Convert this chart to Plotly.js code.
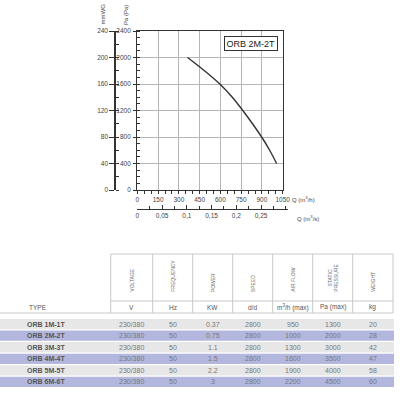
<!DOCTYPE html>
<html><head><meta charset="utf-8">
<script src="https://cdn.plot.ly/plotly-3.0.1.min.js"></script>
<style>html,body{margin:0;padding:0;background:#fff}</style>
</head><body><div id="chart" style="width:400px;height:400px"></div>
<script>
// ---- chart data ----
const curveQ = [363, 485, 596, 686, 762, 832, 898, 956, 1006];   // m3/h
const curveP = [2000, 1800, 1600, 1400, 1200, 1000, 800, 600, 400]; // Pa
const modelLabel = "ORB 2M-2T";
const qsTickVals = [0, 0.05, 0.1, 0.15, 0.2, 0.25];
const qsTickText = ["0", "0,05", "0,1", "0,15", "0,2", "0,25"];

// ---- table data ----
const types = ["ORB 1M-1T", "ORB 2M-2T", "ORB 3M-3T", "ORB 4M-4T", "ORB 5M-5T", "ORB 6M-6T"];
const voltage = ["230/380", "230/380", "230/380", "230/380", "230/380", "230/380"];
const frequency = [50, 50, 50, 50, 50, 50];
const power = ["0.37", "0.75", "1.1", "1.5", "2.2", "3"];
const speed = [2800, 2800, 2800, 2800, 2800, 2800];
const airflow = [950, 1000, 1300, 1600, 1900, 2200];
const pressure = [1300, 2000, 3000, 3500, 4000, 4500];
const weight = [20, 28, 42, 47, 58, 60];
const headers = ["VOLTAGE", "FREQUENCY", "POWER", "SPEED", "AIR FLOW", "STATIC<br>PRESSURE", "WEIGHT"];
const units = ["V", "Hz", "KW", "d/d", "m<sup>3</sup>/h (max)", "Pa (max)", "kg"];

const W = 400, H = 400;
const px = x => x / W;
const py = y => 1 - y / H;
const FONT = "Liberation Sans, Arial, sans-serif";
const tickFont = {family: FONT, size: 6.5, color: "#444"};

const traces = [
  {x: curveQ, y: curveP, xaxis: "x", yaxis: "y", mode: "lines",
   line: {color: "#333", width: 1.4, shape: "spline", smoothing: 1}, hoverinfo: "skip", showlegend: false},
  {x: [0], y: [0], xaxis: "x", yaxis: "y2", mode: "markers", marker: {opacity: 0}, hoverinfo: "skip", showlegend: false},
  {x: [0], y: [0], xaxis: "x2", yaxis: "y4", mode: "markers", marker: {opacity: 0}, hoverinfo: "skip", showlegend: false}
];

const layout = {
  width: W, height: H, autosize: false,
  margin: {l: 0, r: 0, t: 0, b: 0},
  paper_bgcolor: "#fff", plot_bgcolor: "rgba(0,0,0,0)",
  showlegend: false,
  xaxis: {
    domain: [px(137.3), px(282.7)], range: [0, 1050], anchor: "y",
    tickvals: [0, 150, 300, 450, 600, 750, 900, 1050],
    showgrid: true, gridcolor: "#b5b5b5", gridwidth: 1,
    showline: true, linecolor: "#333", linewidth: 1.2, mirror: true,
    ticks: "outside", ticklen: 3, tickcolor: "#333",
    minor: {dtick: 50, ticks: "outside", ticklen: 3, tickcolor: "#333", showgrid: false},
    zeroline: false, tickfont: tickFont, fixedrange: true
  },
  yaxis: {
    domain: [py(190), py(31)], range: [0, 2400], anchor: "x",
    dtick: 400, tick0: 0,
    showgrid: true, gridcolor: "#b5b5b5", gridwidth: 1,
    showline: true, linecolor: "#333", linewidth: 1.2, mirror: true,
    ticks: "outside", ticklen: 3, tickcolor: "#333", ticklabelstandoff: 1,
    minor: {dtick: 100, ticks: "inside", ticklen: 3, tickcolor: "#333", showgrid: false},
    zeroline: false, tickfont: tickFont, fixedrange: true
  },
  yaxis2: {
    overlaying: "y", anchor: "free", position: px(114.3), side: "left",
    range: [0, 240], dtick: 40, tick0: 0,
    showgrid: false, showline: true, linecolor: "#333", linewidth: 1.2,
    ticks: "outside", ticklen: 5, tickcolor: "#333",
    minor: {dtick: 20, ticks: "inside", ticklen: 3, tickcolor: "#333", showgrid: false},
    zeroline: false, tickfont: tickFont, fixedrange: true
  },
  xaxis2: {
    domain: [px(137.3), px(288)], range: [0, 0.3044], anchor: "y4",
    tickvals: qsTickVals, ticktext: qsTickText,
    showgrid: false, showline: true, linecolor: "#333", linewidth: 1.2,
    ticks: "inside", ticklen: 4, tickcolor: "#333",
    minor: {dtick: 0.025, ticks: "inside", ticklen: 3, tickcolor: "#333", showgrid: false},
    zeroline: false, tickfont: tickFont, fixedrange: true
  },
  yaxis4: {domain: [py(209), py(200)], anchor: "x2", visible: false, range: [0, 1], fixedrange: true},
  shapes: [],
  annotations: []
};

const ann = layout.annotations, shp = layout.shapes;

// chart labels
ann.push({xref: "paper", yref: "paper", x: px(102), y: py(27), text: "mmWG", textangle: -90,
  showarrow: false, xanchor: "center", yanchor: "bottom", font: {family: FONT, size: 6, color: "#444"}});
ann.push({xref: "paper", yref: "paper", x: px(126), y: py(27), text: "Pa (Pa)", textangle: -90,
  showarrow: false, xanchor: "center", yanchor: "bottom", font: {family: FONT, size: 6, color: "#444"}});
ann.push({xref: "paper", yref: "paper", x: px(290), y: py(199), text: "Q (m<sup>3</sup>/h)",
  showarrow: false, xanchor: "left", yanchor: "middle", font: {family: FONT, size: 6, color: "#444"}});
ann.push({xref: "paper", yref: "paper", x: px(295), y: py(218), text: "Q (m<sup>3</sup>/s)",
  showarrow: false, xanchor: "left", yanchor: "middle", font: {family: FONT, size: 6, color: "#444"}});
ann.push({xref: "paper", yref: "paper", x: px(251), y: py(44), text: modelLabel,
  showarrow: false, xanchor: "center", yanchor: "middle", bgcolor: "#fff",
  bordercolor: "#333", borderwidth: 1, borderpad: 1.5, font: {family: FONT, size: 9, color: "#222"}});

// ---- table ----
const colEdges = [110.7, 152.7, 192.7, 232.7, 272.7, 312.7, 352.7, 393];
const colCenters = colEdges.slice(0, -1).map((e, i) => (e + colEdges[i + 1]) / 2);
const lineCol = "#c8c8c8";
colEdges.forEach(x => shp.push({type: "line", xref: "paper", yref: "paper",
  x0: px(x), x1: px(x), y0: py(254), y1: py(313), line: {color: lineCol, width: 1}}));
shp.push({type: "line", xref: "paper", yref: "paper", x0: px(110.7), x1: px(393), y0: py(254), y1: py(254), line: {color: lineCol, width: 1}});
shp.push({type: "line", xref: "paper", yref: "paper", x0: px(110.7), x1: px(393), y0: py(301), y1: py(301), line: {color: lineCol, width: 1}});
shp.push({type: "line", xref: "paper", yref: "paper", x0: px(0), x1: px(393), y0: py(313), y1: py(313), line: {color: lineCol, width: 1}});

headers.forEach((h, i) => ann.push({xref: "paper", yref: "paper", x: px(colCenters[i]), y: py(294),
  text: h, textangle: -90, showarrow: false, xanchor: "center", yanchor: "bottom",
  font: {family: FONT, size: 5, color: "#666"}}));
units.forEach((u, i) => ann.push({xref: "paper", yref: "paper", x: px(colCenters[i]), y: py(307),
  text: u, showarrow: false, xanchor: "center", yanchor: "middle",
  font: {family: FONT, size: 6.5, color: "#555"}}));
ann.push({xref: "paper", yref: "paper", x: px(27), y: py(307), text: "TYPE", showarrow: false,
  xanchor: "left", yanchor: "middle", font: {family: FONT, size: 6.5, color: "#555"}});

const rowTop = 319, rowPitch = 11.55, rowH = 10.3;
const cols = [voltage, frequency, power, speed, airflow, pressure, weight];
types.forEach((t, i) => {
  const y0 = rowTop + i * rowPitch;
  shp.push({type: "rect", xref: "paper", yref: "paper", x0: 0, x1: px(394), y0: py(y0 + rowH), y1: py(y0),
    fillcolor: i % 2 === 0 ? "#e7e7e7" : "#b4b7dd", line: {width: 0}, layer: "below"});
  const yc = py(y0 + rowH / 2);
  ann.push({xref: "paper", yref: "paper", x: px(25), y: yc, text: "<b>" + t + "</b>", showarrow: false,
    xanchor: "left", yanchor: "middle", font: {family: FONT, size: 7, color: "#555"}});
  cols.forEach((c, j) => ann.push({xref: "paper", yref: "paper", x: px(colCenters[j]), y: yc,
    text: String(c[i]), showarrow: false, xanchor: "center", yanchor: "middle",
    font: {family: FONT, size: 7, color: "#777"}}));
});

Plotly.newPlot("chart", traces, layout, {staticPlot: true, displayModeBar: false});
</script></body></html>
